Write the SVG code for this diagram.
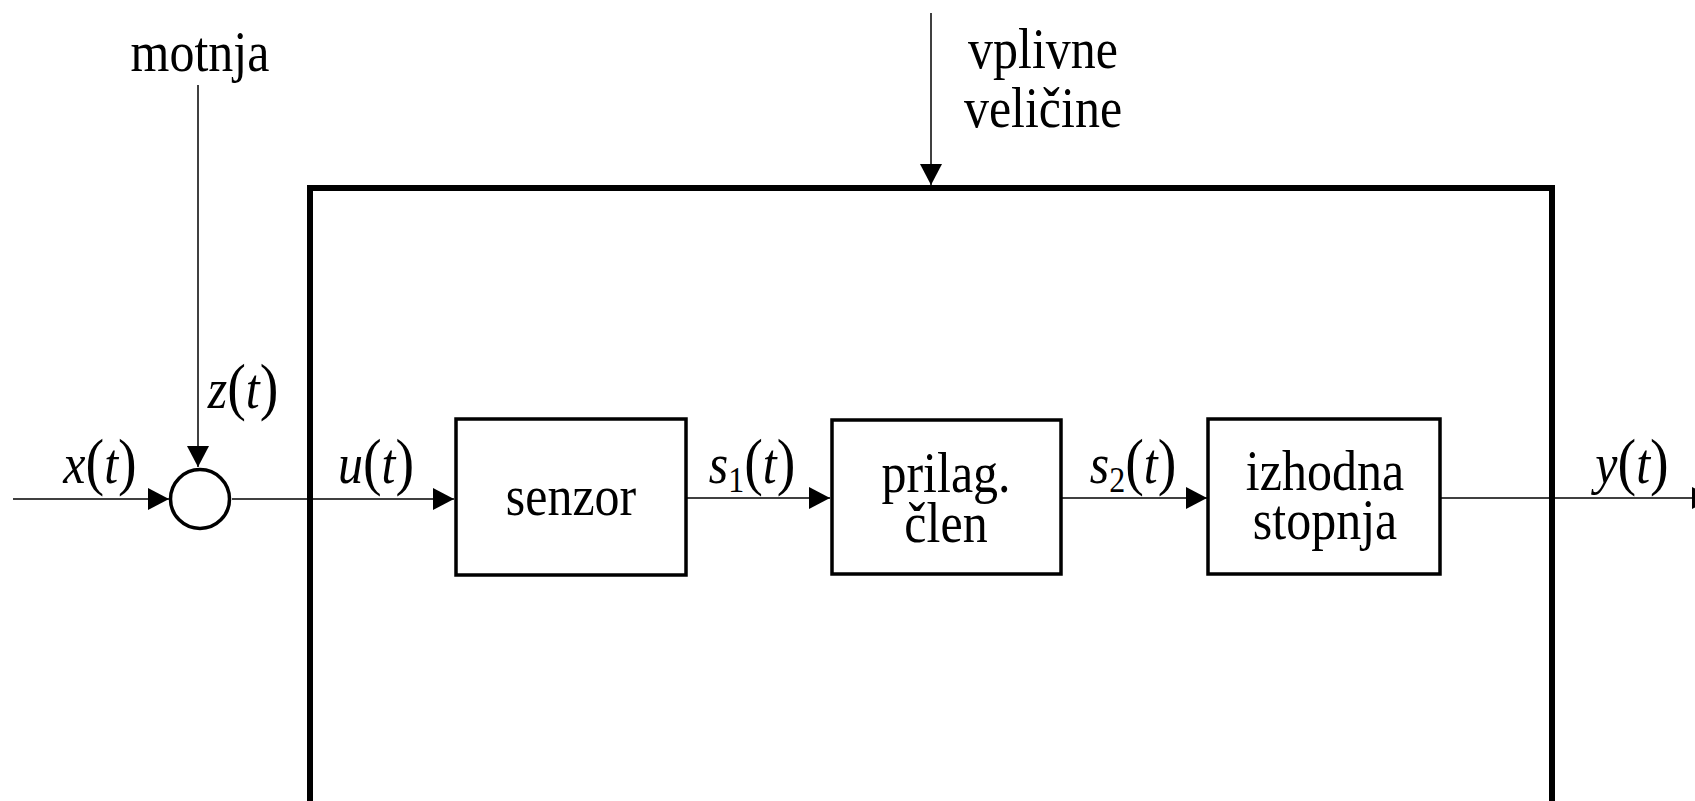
<svg xmlns="http://www.w3.org/2000/svg" width="1695" height="801" viewBox="0 0 1695 801">
  <style>
    .t { font-family: "Liberation Serif", "Times New Roman", serif; font-size: 50px; fill: #000; text-anchor: middle; }
    .i { font-style: italic; }
    .p { font-size: 56px; }
    .sub { font-size: 32px; }
    .thin { stroke: #000; stroke-width: 1.5; fill: none; }
    .blk { stroke: #000; stroke-width: 3.5; fill: #fff; }
  </style>
  <defs>
    <marker id="arr" markerUnits="userSpaceOnUse" markerWidth="22" markerHeight="24" refX="21" refY="11" orient="auto">
      <path d="M0,0 L21,11 L0,22 Z" fill="#000"/>
    </marker>
  </defs>

  <rect width="1695" height="801" fill="#fff"/>

  <!-- outer measuring-system boundary -->
  <g id="system">
    <path d="M310,812 V188 H1552 V812" fill="none" stroke="#000" stroke-width="6"/>
  </g>

  <!-- connectors -->
  <g id="connectors">
    <line class="thin" x1="13" y1="499" x2="169" y2="499" marker-end="url(#arr)"/>
    <line class="thin" x1="198" y1="85" x2="198" y2="467" marker-end="url(#arr)"/>
    <line class="thin" x1="931" y1="13" x2="931" y2="185" marker-end="url(#arr)"/>
    <line class="thin" x1="232" y1="499" x2="454" y2="499" marker-end="url(#arr)"/>
    <line class="thin" x1="686" y1="498" x2="830" y2="498" marker-end="url(#arr)"/>
    <line class="thin" x1="1061" y1="498" x2="1207" y2="498" marker-end="url(#arr)"/>
    <line class="thin" x1="1439" y1="498" x2="1713" y2="498" marker-end="url(#arr)"/>
  </g>

  <!-- summing junction -->
  <g id="sum">
    <circle class="blk" cx="200" cy="499" r="29.5"/>
  </g>

  <g id="senzor">
    <rect class="blk" x="456" y="419" width="230" height="156"/>
    <text class="t" transform="translate(571,515) scale(1,1.12)">senzor</text>
  </g>

  <g id="prilag">
    <rect class="blk" x="832" y="420" width="229" height="154"/>
    <text class="t" transform="translate(946,492) scale(1,1.12)"><tspan x="0" y="0">prilag.</tspan><tspan x="0" y="44.6">člen</tspan></text>
  </g>

  <g id="izhodna">
    <rect class="blk" x="1208" y="419" width="232" height="155"/>
    <text class="t" transform="translate(1325,490) scale(1,1.12)"><tspan x="0" y="0">izhodna</tspan><tspan x="0" y="43.8">stopnja</tspan></text>
  </g>

  <!-- signal and input labels -->
  <g id="labels">
    <text class="t" transform="translate(200,71) scale(1,1.12)">motnja</text>
    <text class="t" transform="translate(1043,68) scale(1,1.12)"><tspan x="0" y="0">vplivne</tspan><tspan x="0" y="52.7">veličine</tspan></text>
    <text class="t" transform="translate(100,483) scale(1,1.12)"><tspan class="i">x</tspan><tspan class="p">(</tspan><tspan class="i">t</tspan><tspan class="p">)</tspan></text>
    <text class="t" transform="translate(243,408) scale(1,1.12)"><tspan class="i">z</tspan><tspan class="p">(</tspan><tspan class="i">t</tspan><tspan class="p">)</tspan></text>
    <text class="t" transform="translate(376,483) scale(1,1.12)"><tspan class="i">u</tspan><tspan class="p">(</tspan><tspan class="i">t</tspan><tspan class="p">)</tspan></text>
    <text class="t" transform="translate(752,483) scale(1,1.12)"><tspan class="i">s</tspan><tspan class="sub" dy="8">1</tspan><tspan class="p" dy="-8">(</tspan><tspan class="i">t</tspan><tspan class="p">)</tspan></text>
    <text class="t" transform="translate(1133,483) scale(1,1.12)"><tspan class="i">s</tspan><tspan class="sub" dy="8">2</tspan><tspan class="p" dy="-8">(</tspan><tspan class="i">t</tspan><tspan class="p">)</tspan></text>
    <text class="t" transform="translate(1632,483) scale(1,1.12)"><tspan class="i">y</tspan><tspan class="p">(</tspan><tspan class="i">t</tspan><tspan class="p">)</tspan></text>
  </g>
</svg>
